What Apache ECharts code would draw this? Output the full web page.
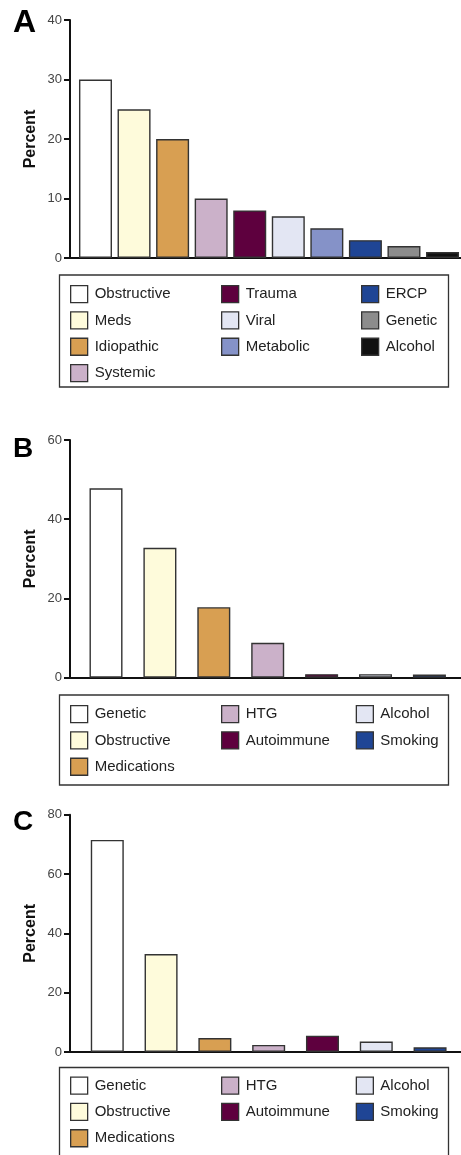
<!DOCTYPE html>
<html>
<head>
<meta charset="utf-8">
<script src="https://cdn.jsdelivr.net/npm/echarts@6/dist/echarts.min.js"></script>
<style>
  html, body { margin: 0; padding: 0; background: #fff; }
  body { width: 461px; height: 1155px; position: relative; overflow: hidden; }
  .panel { position: absolute; left: 0; width: 461px; }
</style>
</head>
<body>
<div id="pA" class="panel" style="top:0px;height:400px"></div>
<div id="pB" class="panel" style="top:420px;height:380px"></div>
<div id="pC" class="panel" style="top:800px;height:355px"></div>
<script>
// ---- Data ----
const catsA = ['Obstructive', 'Meds', 'Idiopathic', 'Systemic', 'Trauma', 'Viral', 'Metabolic', 'ERCP', 'Genetic', 'Alcohol'];
const valsA = [30, 25, 20, 10, 8, 7, 5, 3, 2, 1];
const colorsA = ['#ffffff', '#fefbdb', '#d89f52', '#cbb1c9', '#5e003e', '#e3e6f3', '#8592c8', '#1f4595', '#8c8c8c', '#111111'];
const legendColsA = [['Obstructive', 'Meds', 'Idiopathic', 'Systemic'], ['Trauma', 'Viral', 'Metabolic'], ['ERCP', 'Genetic', 'Alcohol']];
const yTicksA = [0, 10, 20, 30, 40];

const catsB = ['Genetic', 'Obstructive', 'Medications', 'HTG', 'Autoimmune', 'Alcohol', 'Smoking'];
const valsB = [47.8, 32.8, 17.8, 8.8, 0.9, 0.9, 0.8];
const colorsB = ['#ffffff', '#fefbdb', '#d89f52', '#cbb1c9', '#5e003e', '#e3e6f3', '#1f4595'];
const legendColsB = [['Genetic', 'Obstructive', 'Medications'], ['HTG', 'Autoimmune'], ['Alcohol', 'Smoking']];
const yTicksB = [0, 20, 40, 60];

const catsC = ['Genetic', 'Obstructive', 'Medications', 'HTG', 'Autoimmune', 'Alcohol', 'Smoking'];
const valsC = [71.5, 33, 4.7, 2.4, 5.5, 3.5, 1.6];
const colorsC = ['#ffffff', '#fefbdb', '#d89f52', '#cbb1c9', '#5e003e', '#e3e6f3', '#1f4595'];
const legendColsC = [['Genetic', 'Obstructive', 'Medications'], ['HTG', 'Autoimmune'], ['Alcohol', 'Smoking']];
const yTicksC = [0, 20, 40, 60, 80];

const FONT = '"Liberation Sans", Arial, Helvetica, sans-serif';

function buildPanel(el, cfg) {
  const chart = echarts.init(document.getElementById(el), null, { renderer: 'canvas' });
  const ticks = cfg.ticks;
  const series = cfg.cats.map((name, i) => ({
    name: name,
    type: 'bar',
    barWidth: 33,
    barGap: '-100%',
    data: [[i, cfg.vals[i]]],
    itemStyle: { color: cfg.colors[i], borderColor: '#333', borderWidth: 1.4 },
    emphasis: { disabled: true },
    animation: false
  }));
  const legends = cfg.legendCols.map((col, k) => ({
    orient: 'vertical',
    left: cfg.legendX[k],
    top: cfg.legendTop,
    padding: 0,
    itemGap: 8,
    itemWidth: 17,
    itemHeight: 17,
    icon: 'rect',
    selectedMode: false,
    data: col,
    itemStyle: { borderColor: '#333', borderWidth: 1.3 },
    textStyle: { fontSize: 15, color: '#222', fontFamily: FONT, padding: [0, 0, 0, 2], lineHeight: 17 }
  }));
  chart.setOption({
    animation: false,
    title: {
      text: cfg.letter,
      left: 13,
      top: cfg.letterTop,
      padding: 0,
      textStyle: { fontSize: cfg.letterSize, fontWeight: 'bold', color: '#000', fontFamily: FONT }
    },
    grid: { left: 70, right: 0, top: cfg.gridTop, height: cfg.gridHeight },
    xAxis: {
      type: 'value',
      min: cfg.xMin,
      max: cfg.xMax,
      axisLine: { show: true, onZero: true, lineStyle: { color: '#111', width: 2 } },
      axisTick: { show: false },
      axisLabel: { show: false },
      splitLine: { show: false }
    },
    yAxis: {
      type: 'value',
      min: ticks[0],
      max: ticks[ticks.length - 1],
      interval: ticks[1] - ticks[0],
      name: 'Percent',
      nameLocation: 'middle',
      nameRotate: 90,
      nameGap: 31,
      nameMoveOverlap: false,
      nameTextStyle: { fontSize: 16, fontWeight: 'bold', color: '#111', fontFamily: FONT },
      axisLine: { show: true, onZero: false, lineStyle: { color: '#111', width: 2 } },
      axisTick: { show: true, inside: false, length: 6, lineStyle: { color: '#111', width: 2 } },
      axisLabel: { fontSize: 13, color: '#444', margin: 8, fontFamily: FONT },
      splitLine: { show: false }
    },
    legend: legends,
    graphic: [{
      type: 'rect',
      shape: cfg.box,
      style: { fill: 'none', stroke: '#333', lineWidth: 1.3 },
      silent: true
    }],
    series: series
  });
}

buildPanel('pA', {
  letter: 'A', letterTop: 7, letterSize: 32,
  cats: catsA, vals: valsA, colors: colorsA, legendCols: legendColsA, ticks: yTicksA,
  gridTop: 20, gridHeight: 238, xMin: -0.661, xMax: 9.479,
  legendX: [70, 221, 361], legendTop: 285,
  box: { x: 59.5, y: 275, width: 389, height: 112 }
});
buildPanel('pB', {
  letter: 'B', letterTop: 15, letterSize: 28,
  cats: catsB, vals: valsB, colors: colorsB, legendCols: legendColsB, ticks: yTicksB,
  gridTop: 20, gridHeight: 237.7, xMin: -0.668, xMax: 6.586,
  legendX: [70, 221, 355.7], legendTop: 285,
  box: { x: 59.5, y: 275, width: 389, height: 90 }
});
buildPanel('pC', {
  letter: 'C', letterTop: 8, letterSize: 28,
  cats: catsC, vals: valsC, colors: colorsC, legendCols: legendColsC, ticks: yTicksC,
  gridTop: 14.7, gridHeight: 237.3, xMin: -0.693, xMax: 6.575,
  legendX: [70, 221, 355.7], legendTop: 276.5,
  box: { x: 59.5, y: 267.5, width: 389, height: 120 }
});
</script>
</body>
</html>
